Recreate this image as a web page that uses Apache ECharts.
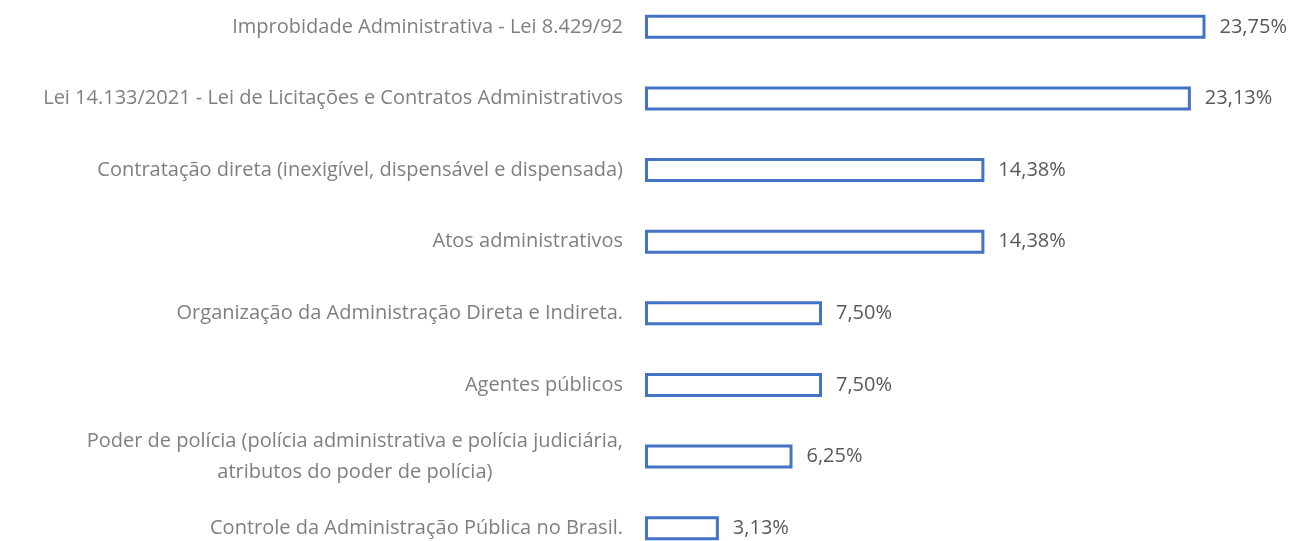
<!DOCTYPE html>
<html>
<head>
<meta charset="utf-8">
<script src="https://cdn.jsdelivr.net/npm/echarts@6/dist/echarts.min.js"></script>
<style>
  html, body { margin: 0; padding: 0; background: #fff; overflow: hidden; }
  #chart { position: absolute; left: 0; top: -9px; width: 1298px; height: 573px; }
</style>
</head>
<body>
<div id="chart"></div>
<script>
// temas x percentual de questões
const categories = [
  'Improbidade Administrativa - Lei 8.429/92',
  'Lei 14.133/2021 - Lei de Licitações e Contratos Administrativos',
  'Contratação direta (inexigível, dispensável e dispensada)',
  'Atos administrativos',
  'Organização da Administração Direta e Indireta.',
  'Agentes públicos',
  'Poder de polícia (polícia administrativa e polícia judiciária,\natributos do poder de polícia)',
  'Controle da Administração Pública no Brasil.'
]
const values = [23.75, 23.13, 14.38, 14.38, 7.50, 7.50, 6.25, 3.13]

const chart = echarts.init(document.getElementById('chart'))

chart.setOption({
  animation: false,
  grid: {
    left: 645,
    right: 63,
    top: 0,
    bottom: 0
  },
  xAxis: {
    type: 'value',
    min: 0,
    max: 25,
    show: false,
    splitLine: { show: false }
  },
  yAxis: {
    type: 'category',
    inverse: true,
    data: categories,
    axisLine: { show: false },
    axisTick: { show: false },
    axisLabel: {
      margin: 22,
      color: '#7f7f7f',
      fontFamily: 'Open Sans',
      fontSize: 20,
      align: 'right',
      // linhas centradas entre si
      formatter: function (v) {
        return v.split('\n').map(function (s) { return '{c|' + s + '}' }).join('\n')
      },
      rich: {
        c: {
          align: 'center',
          color: '#7f7f7f',
          fontFamily: 'Open Sans',
          fontSize: 20,
          lineHeight: 31
        }
      }
    }
  },
  series: [{
    type: 'bar',
    data: values,
    barWidth: 24,
    itemStyle: {
      color: '#ffffff',
      borderColor: '#4472C4',
      borderWidth: 3
    },
    label: {
      show: true,
      position: 'right',
      distance: 14,
      color: '#595959',
      fontFamily: 'Open Sans',
      fontSize: 20,
      formatter: function (p) {
        return p.value.toFixed(2).replace('.', ',') + '%'
      }
    }
  }]
})
</script>
</body>
</html>
